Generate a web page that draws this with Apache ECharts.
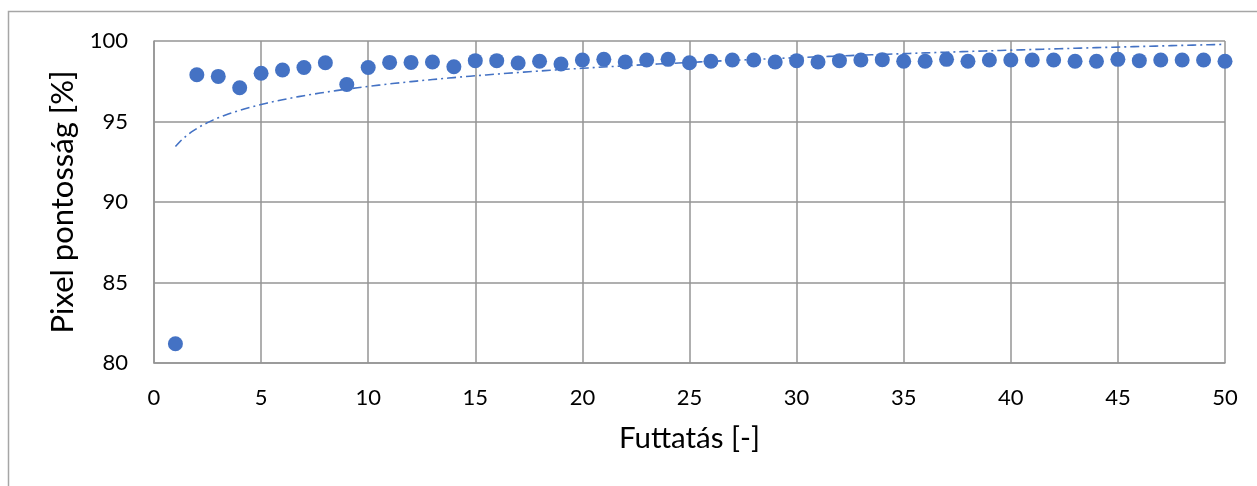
<!DOCTYPE html>
<html>
<head>
<meta charset="utf-8">
<script src="https://cdn.jsdelivr.net/npm/echarts@6/dist/echarts.min.js"></script>
<style>
  html, body { margin: 0; padding: 0; background: #fff; }
  #chart { width: 1257px; height: 486px; }
</style>
</head>
<body>
<div id="chart"></div>
<script>
// Run index (1..50) and measured pixel accuracy per run
const runs = Array.from({ length: 50 }, (_, i) => i + 1);
const accuracy = [
  81.2, 97.9, 97.8, 97.1, 98.0, 98.2, 98.35, 98.65, 97.3, 98.35,
  98.67, 98.67, 98.7, 98.4, 98.78, 98.78, 98.63, 98.74, 98.57, 98.82,
  98.86, 98.7, 98.82, 98.86, 98.65, 98.74, 98.82, 98.82, 98.7, 98.78,
  98.7, 98.78, 98.82, 98.84, 98.74, 98.74, 98.86, 98.74, 98.82, 98.82,
  98.82, 98.82, 98.74, 98.74, 98.86, 98.78, 98.82, 98.82, 98.82, 98.74
];
const xTicks = [0, 5, 10, 15, 20, 25, 30, 35, 40, 45, 50];
const yTicks = [80, 85, 90, 95, 100];

// Logarithmic trendline y = a + b*ln(x), least squares on the data
const lx = runs.map(Math.log);
const n = runs.length;
const mx = lx.reduce((s, v) => s + v, 0) / n;
const my = accuracy.reduce((s, v) => s + v, 0) / n;
let sxy = 0, sxx = 0;
for (let i = 0; i < n; i++) {
  sxy += (lx[i] - mx) * (accuracy[i] - my);
  sxx += (lx[i] - mx) * (lx[i] - mx);
}
const b = sxy / sxx;
const a = my - b * mx;
const trend = [];
for (let x = 1; x <= 50.0001; x += 0.25) trend.push([x, a + b * Math.log(x)]);

const BLUE = '#4472C4';
const GRID = '#959595';
const FONT = 'Lato, "Open Sans", sans-serif';

const chart = echarts.init(document.getElementById('chart'), null, { renderer: 'canvas' });
chart.setOption({
  animation: false,
  backgroundColor: '#fff',
  graphic: [{
    type: 'rect',
    shape: { x: 8.5, y: 11.5, width: 1300, height: 600 },
    style: { fill: 'none', stroke: '#a6a6a6', lineWidth: 1.5 },
    silent: true, z: -1
  }],
  grid: { left: 154, right: 32, top: 41, bottom: 123 },
  xAxis: {
    type: 'value', min: xTicks[0], max: xTicks[xTicks.length - 1], interval: 5,
    name: 'Futtatás [-]', nameLocation: 'middle', nameGap: 60,
    nameTextStyle: { fontFamily: FONT, fontSize: 29.5, color: '#000' },
    axisLine: { show: true, lineStyle: { color: GRID, width: 1.5 } },
    axisTick: { show: false },
    axisLabel: { fontFamily: FONT, fontSize: 22, color: '#000', margin: 24 },
    splitLine: { show: true, lineStyle: { color: GRID, width: 1.5 } }
  },
  yAxis: {
    type: 'value', min: yTicks[0], max: yTicks[yTicks.length - 1], interval: 5,
    name: 'Pixel pontosság [%]', nameLocation: 'middle', nameGap: 75, nameRotate: 90,
    nameTextStyle: { fontFamily: FONT, fontSize: 31, color: '#000' },
    axisLine: { show: true, lineStyle: { color: GRID, width: 1.5 } },
    axisTick: { show: false },
    axisLabel: { fontFamily: FONT, fontSize: 22, color: '#000', margin: 26 },
    splitLine: { show: true, lineStyle: { color: GRID, width: 1.5 } }
  },
  series: [
    {
      type: 'line', data: trend, showSymbol: false, smooth: false, z: 1,
      lineStyle: { color: BLUE, width: 1.6, type: [9, 4, 2, 4] }
    },
    {
      type: 'scatter', data: runs.map((x, i) => [x, accuracy[i]]),
      symbol: 'circle', symbolSize: 15, z: 2,
      itemStyle: { color: BLUE, opacity: 1 }
    }
  ]
});
</script>
</body>
</html>
